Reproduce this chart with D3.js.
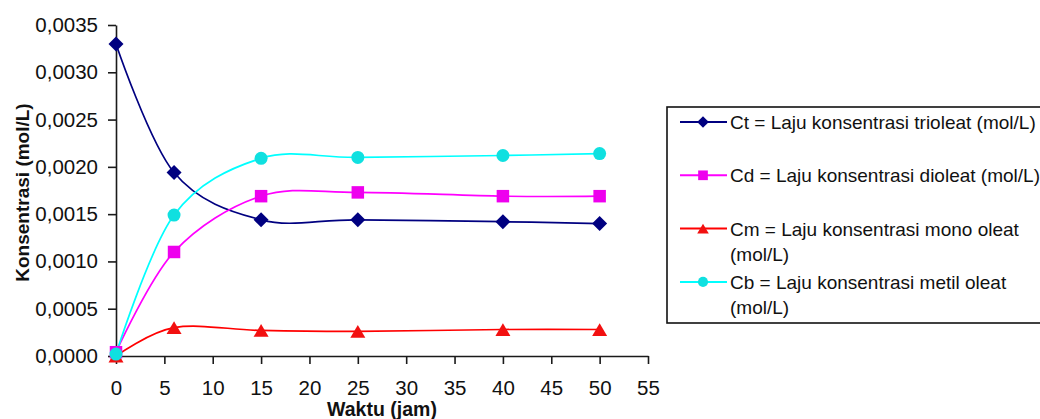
<!DOCTYPE html>
<html>
<head>
<meta charset="utf-8">
<script src="https://cdn.jsdelivr.net/npm/d3@7"></script>
<style>
  html, body { margin: 0; padding: 0; background: #fff; }
  svg { display: block; font-family: "Liberation Sans", Arial, sans-serif; }
</style>
</head>
<body>
<svg id="chart" width="1040" height="419"></svg>
<script>
// Reaction time (hours) and concentrations (mol/L)
const hours = [0, 6, 15, 25, 40, 50];
const ct = [0.00330, 0.00194, 0.00144, 0.00144, 0.00142, 0.00140];
const cd = [0.00004, 0.00110, 0.00169, 0.00173, 0.00169, 0.00169];
const cm = [0.00000, 0.00030, 0.00027, 0.00026, 0.00028, 0.00028];
const cb = [0.00002, 0.00149, 0.00209, 0.00210, 0.00212, 0.00214];

const seriesKeys = ["Ct", "Cd", "Cm", "Cb"];
const legendLabels = [
  ["Ct = Laju konsentrasi trioleat (mol/L)"],
  ["Cd = Laju konsentrasi dioleat (mol/L)"],
  ["Cm = Laju konsentrasi mono oleat", "(mol/L)"],
  ["Cb = Laju konsentrasi metil oleat", "(mol/L)"]
];
const xTicks = [0, 5, 10, 15, 20, 25, 30, 35, 40, 45, 50, 55];
const yTicks = [0, 0.0005, 0.0010, 0.0015, 0.0020, 0.0025, 0.0030, 0.0035];
const xTitle = "Waktu (jam)";
const yTitle = "Konsentrasi (mol/L)";

const values = { Ct: ct, Cd: cd, Cm: cm, Cb: cb };

// Marker shapes
const diamond = {
  draw(ctx, size) {
    const r = Math.sqrt(size) / 2;
    ctx.moveTo(0, -r); ctx.lineTo(r, 0); ctx.lineTo(0, r); ctx.lineTo(-r, 0); ctx.closePath();
  }
};
const square = {
  draw(ctx, size) {
    const h = Math.sqrt(size) / 2;
    ctx.rect(-h, -h, 2 * h, 2 * h);
  }
};
const triangle = {
  draw(ctx, size) {
    const w = Math.sqrt(size) / 2;
    const hh = w * 0.85;
    ctx.moveTo(0, -hh); ctx.lineTo(w, hh); ctx.lineTo(-w, hh); ctx.closePath();
  }
};
const circle = {
  draw(ctx, size) {
    const r = Math.sqrt(size) / 2;
    ctx.moveTo(r, 0); ctx.arc(0, 0, r, 0, 2 * Math.PI);
  }
};

const style = {
  Ct: { color: "#000080", fill: "#000080", symbol: diamond, size: 15 * 15 },
  Cd: { color: "#FF00FF", fill: "#EE00EE", symbol: square, size: 12.5 * 12.5 },
  Cm: { color: "#FF0000", fill: "#F21010", symbol: triangle, size: 15 * 15 },
  Cb: { color: "#00FFFF", fill: "#10E0E0", symbol: circle, size: 13 * 13 }
};

const svg = d3.select("#chart");

const x = d3.scaleLinear().domain([0, 55]).range([116, 648]);
const y = d3.scaleLinear().domain([0, 0.0035]).range([356, 25]);

const commaFmt = v => d3.format(".4f")(v).replace(".", ",");

// Axes
const xAxis = svg.append("g")
  .attr("transform", `translate(0,${y(0)})`)
  .call(d3.axisBottom(x).tickValues(xTicks).tickSize(8).tickSizeOuter(0).tickPadding(16).tickFormat(d3.format("d")));
const yAxis = svg.append("g")
  .attr("transform", `translate(${x(0)},0)`)
  .call(d3.axisLeft(y).tickValues(yTicks).tickSize(8).tickSizeOuter(0).tickPadding(10).tickFormat(commaFmt));

[xAxis, yAxis].forEach(g => {
  g.select(".domain").attr("stroke", "#1a1a1a").attr("stroke-width", 1.6);
  g.selectAll(".tick line").attr("stroke", "#1a1a1a").attr("stroke-width", 1.6);
  g.selectAll(".tick text")
    .attr("fill", "#111")
    .style("font-size", "20.5px")
    .style("font-family", "'Liberation Sans', Arial, sans-serif");
});

// Axis titles
svg.append("text")
  .attr("x", (x.range()[0] + x.range()[1]) / 2)
  .attr("y", 416)
  .attr("text-anchor", "middle")
  .style("font-size", "19.5px")
  .style("font-weight", "bold")
  .attr("fill", "#111")
  .text(xTitle);

svg.append("text")
  .attr("transform", `translate(29,${(y.range()[0] + y.range()[1]) / 2 + 2}) rotate(-90)`)
  .attr("text-anchor", "middle")
  .style("font-size", "19px")
  .style("font-weight", "bold")
  .attr("fill", "#111")
  .text(yTitle);

// Smoothed series lines
const line = d3.line()
  .x(d => x(d[0]))
  .y(d => y(d[1]))
  .curve(d3.curveCardinal.tension(0));

seriesKeys.forEach(k => {
  const pts = hours.map((h, i) => [h, values[k][i]]);
  svg.append("path")
    .datum(pts)
    .attr("fill", "none")
    .attr("stroke", style[k].color)
    .attr("stroke-width", 1.7)
    .attr("d", line);
});

// Markers
seriesKeys.forEach(k => {
  const pts = hours.map((h, i) => [h, values[k][i]]);
  const sym = d3.symbol().type(style[k].symbol).size(style[k].size);
  svg.append("g")
    .selectAll("path")
    .data(pts)
    .join("path")
    .attr("transform", d => `translate(${x(d[0])},${y(d[1])})`)
    .attr("fill", style[k].fill)
    .attr("d", sym);
});

// Legend
const legend = svg.append("g");
legend.append("rect")
  .attr("x", 667).attr("y", 107)
  .attr("width", 390).attr("height", 216)
  .attr("fill", "none")
  .attr("stroke", "#111")
  .attr("stroke-width", 1.6);

const rowStart = 122, rowGap = 53.3, lineGap = 25;
seriesKeys.forEach((k, i) => {
  const cy = rowStart + i * rowGap;
  const row = legend.append("g").attr("transform", `translate(0,${cy})`);
  row.append("line")
    .attr("x1", 680).attr("x2", 727)
    .attr("y1", 0).attr("y2", 0)
    .attr("stroke", style[k].color)
    .attr("stroke-width", 2);
  const sym = d3.symbol().type(style[k].symbol).size(style[k].size * 0.6);
  row.append("path")
    .attr("transform", "translate(703,0)")
    .attr("fill", style[k].fill)
    .attr("d", sym);
  legendLabels[i].forEach((t, j) => {
    row.append("text")
      .attr("x", 730)
      .attr("y", 7 + j * lineGap)
      .style("font-size", "19px")
      .attr("fill", "#111")
      .text(t);
  });
});
</script>
</body>
</html>
